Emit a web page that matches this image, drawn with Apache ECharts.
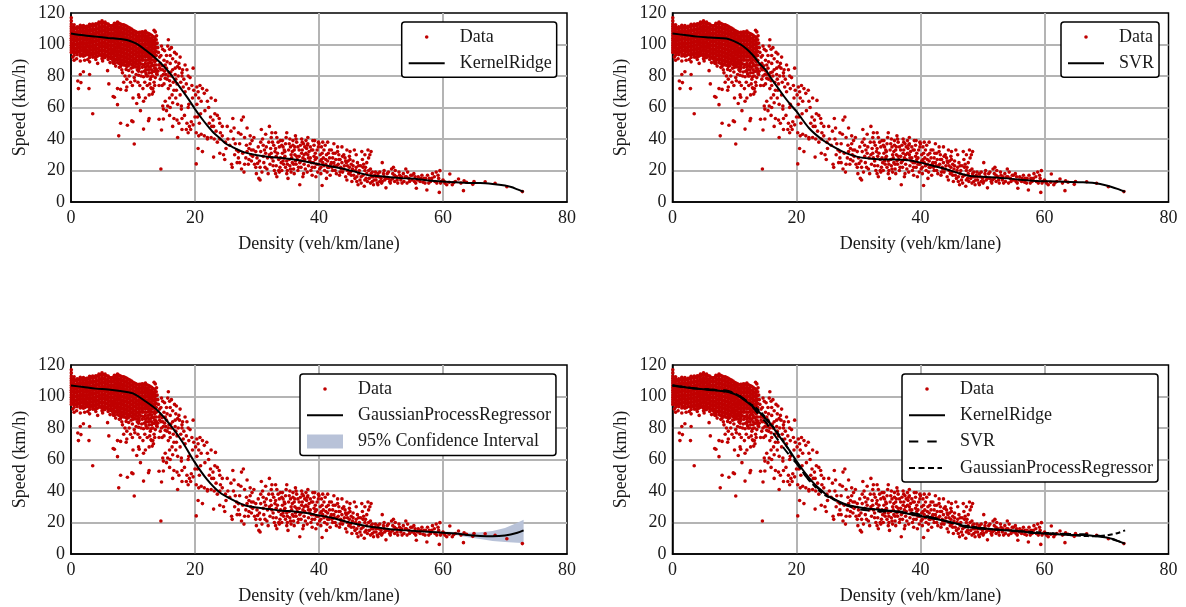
<!DOCTYPE html>
<html><head><meta charset="utf-8">
<style>html,body{margin:0;padding:0;background:#fff}#c{width:1186px;height:607px}</style>
<script src="https://cdn.jsdelivr.net/npm/echarts@6/dist/echarts.min.js"></script>
</head><body><div id="c"></div>
<script>
// Solid cluster of low-density observations: density, then the speeds read in that column
const denseColumns = [
[0.05,[117,115,113,111.5,110,108.5,107,105.5,104,102.5,101,99.5,98,96.5,95]],
[0.5,[112.5,111,109.7,108.2,106.7,105.2,103.7,102.2,100.7,99.2,97.7,96.2,94.7,93.2]],
[1,[111.3,110,108.5,107,105.5,104,102.5,101,99.5,98,96.5,95,93.5]],
[1.5,[112.2,110.7,109.2,107.7,106.2,104.7,103.2,101.7,100.2,98.7,97.2,95.7,94.2,92.7]],
[2,[112,110.5,109,107.5,106,104.5,103,101.5,100,98.5,97,95.5,94,92.5]],
[2.5,[111.5,110,108.7,107.2,105.7,104.2,102.7,101.2,99.7,98.2,96.7,95.2,93.7]],
[3,[112.8,111.2,109.7,108.2,106.7,105.2,103.7,102.2,100.7,99.2,97.7,96.2,94.7,93.2,91.7]],
[3.5,[113,111.5,110,108.5,107,105.5,104,102.5,101,99.5,98,96.5,95,93.5,92]],
[4,[113.2,111.8,110.2,108.7,107.2,105.7,104.2,102.7,101.2,99.7,98.2,96.7,95.2,93.7,92.2,90.5]],
[4.5,[114.2,112.7,111.2,109.7,108.2,106.7,105.2,103.7,102.2,100.7,99.2,97.7,96.2,94.7,93.2]],
[5,[115,113.5,112,110.5,109,107.5,106,104.5,103,101.5,100,98.5,97,95.5,94,92.5,91]],
[5.5,[114.2,112.7,111.2,109.7,108.2,106.7,105.2,103.7,102.2,100.7,99.2,97.7,96.2,94.7,93.2,91.7]],
[6,[113,111.5,110,108.5,107,105.5,104,102.5,101,99.5,98,96.5,95,93.5,92,90.5]],
[6.5,[111.8,110.5,109,107.5,106,104.5,103,101.5,100,98.5,97,95.5,94,92.5,91]],
[7,[113.5,112,110.5,109,107.5,106,104.5,103,101.5,100,98.5,97,95.5,94,92.5,91,89.5,88]],
[7.5,[114.2,112.5,111,109.5,108,106.5,105,103.5,102,100.5,99,97.5,96,94.5,93,91.5,90,88.5]],
[8,[113,111.5,110,108.5,107,105.5,104,102.5,101,99.5,98,96.5,95,93.5,92,90.5,89,87.5,86]],
[8.5,[112.5,111,109.5,108,106.5,105,103.5,102,100.5,99,97.5,96,94.5,93,91.5,90,88.5,87]],
[9,[111.5,110,108.5,107,105.5,104,102.5,101,99.5,98,96.5,95,93.5,92,90.5,89,87.5,86]],
[9.5,[110.5,109,107.5,106,104.5,103,101.5,100,98.5,97,95.5,94,92.5,91,89.5,88]],
[10,[109,108,106.5,105,103.5,102,100.5,99,97.5,96,94.5,93,91.5,90,88.5,87,85.5]],
[10.5,[108,107,105.5,104,102.5,101,99.5,98,96.5,95,93.5,92,90.5,89,87.5]],
[11,[107.8,106.8,105.3,103.8,102.3,100.8,99.3,97.8,96.3,94.8,93.3,91.8,90.3,88.8,86.3,84.8]],
[11.5,[108,106.5,105,103.5,102,100.5,99,97.5,96,94.5,93,91.5,90,87.5,85.5]],
[12,[108.5,107,105.5,104,102.5,101,99.5,98,96.5,95,93.5,92,90,88,85.5,83.5]],
[12.5,[107,105.5,104,102.5,101,99.5,98,96.5,95,93.5,92,90.5,88,86,84]],
[13,[105.8,104.3,102.8,101.3,99.8,98.3,96.8,95.3,93.8,92.3,90.3,88,86.5,84,82]],
[13.5,[104.5,103,101.5,100,98.5,97,95.5,94,92.5,90.5,89,87,85,83]],
[0.28,[111,108,105.5,103,100.5,98,95.5]],
[0.77,[110.3,107.5,105,102.5,100,97.5,95]],
[1.27,[110.8,108,105.5,103,100.5,98,95.5]],
[1.76,[111,108.5,106,103.5,101,98.5,96,93.5]],
[2.25,[110.8,108,105.5,103,100.5,98,95.5,93]],
[2.76,[111.5,108.5,106,103.5,101,98.5,96,93.5]],
[3.24,[112,109,106.5,104,101.5,99,96.5,94]],
[3.76,[112.3,109.5,107,104.5,102,99.5,97,94.5,92]],
[4.25,[113,110,107.5,105,102.5,100,97.5,95,92.5]],
[4.74,[114,111,108.5,106,103.5,101,98.5,96,93.5]],
[5.25,[114,111.2,108.7,106.2,103.7,101.2,98.7,96.2,93.7,91.5]],
[5.77,[113.2,110.5,108,105.5,103,100.5,98,95.5,93]],
[6.25,[112,109.5,107,104.5,102,99.5,97,94.5,92]],
[6.75,[112,109.3,106.8,104.3,101.8,99.3,96.8,94.3,91.8,89.7]],
[7.24,[113.3,110.7,108,105.5,103,100.5,98,95.5,93,90.5]],
[7.76,[113.5,110.8,108.2,105.7,103.2,100.7,98.2,95.7,93.2,90.7,88]],
[8.25,[112.5,110,107.5,105,102.5,100,97.5,95,92.5,90,87.5]],
[8.75,[112,109.3,106.8,104.3,101.8,99.3,96.8,94.3,91.8,89.3,86.8]],
[9.25,[111,108.5,106,103.5,101,98.5,96,93.5,91,88.5,86.5]],
[9.76,[109.8,107.3,104.8,102.3,99.8,97.3,94.8,92.3,89.8,87.3]],
[10.25,[108.5,106,103.5,101,98.5,96,93.5,91,88.5,86]],
[10.75,[107.5,105,102.5,100,97.5,95,92.5,90,87.5,85.5]],
[11.25,[107.8,105.2,102.7,100.2,97.7,95.2,92.7,90.2,87.7]],
[11.75,[107.8,105.2,102.7,100.2,97.7,95.2,92.7,90.2,87]],
[12.25,[107.5,105,102.5,100,97.5,95,92.5,90,86.5,84]],
[12.75,[106.5,104,101.5,99,96.5,94,91.5,89,85.5]],
[13.25,[105,102.5,100,97.5,95,92.5,90,86.5]],
[13.75,[103,100.5,98,95.5,93,90,87,84]]
];
// Individually read scatter points: [density, speed]
const sparsePoints = [
[0.5,90],[1.5,89.5],[3,89],[4.3,88],[5.9,83.4],[2,82.7],[1.5,81],[3,81],[1.1,76.8],[1.6,75.8],[1.2,72],[2.9,72],[6.1,75],[3.5,56],[7.5,72],[8,71.5],[6.8,67],[7,66.5],[7.5,61.8],[8.9,71],[8,50],[9.1,48.7],[7.7,42],[10,51],[10.2,36.8],[14.5,21],[11.7,46.3],[12.5,51.6],[12.6,53],[14.2,52.5],[14.9,52.7],[14.6,45.7],[10,66],[10.9,68],[11,66.5],[11.7,64],[10.6,62.5],[11.2,58],[9.8,51.5],[12,66],[12.6,68],[13,72],[13.2,72],[13.3,70],[13.1,68.5],
[8.3,82],[8.7,80],[9,78],[9.4,80],[8.5,76],[9.9,74],[10.2,79],[10.5,81],[10.3,77],[10.9,83],[11.3,80],[11.1,74],[11.7,79.5],[11.9,76],[12.2,80],[12.3,74],[12.8,78],[12.7,75],[13.2,80],[13.4,76],[13.6,79],[13.9,81],[14,83],[14.3,85],[14.4,88],[14.6,80],[14.2,74],[14.8,84],[15,90],[15.2,87],[15.3,81],[15.5,78],[15,75],[15.8,82],[15.9,77],[15.7,72],[16,74],[16.2,80],[16.4,84],[16.5,76],
[14.1,95],[14.3,92],[14.6,99],[14.8,97],[14.5,93],[15.1,96],[15.4,93],[15.6,99],[15.7,103],[15.9,97],[16,93],[16.2,98],[16.4,91],[16.7,95],[16.9,89],[17,94],[17.4,88],[17.6,92],[17.2,86],[16.8,85],[16,88],[15.5,89],
[13.6,108],[13.8,105.5],[13.4,109],[13.9,101],[14,98],[17.5,85],[17.9,80],[18,84],[18.4,87],[18.7,84],[18.9,80],[19.2,79],[19.7,85],[17.3,80],[17.7,76],[16.9,78],[18.2,78],[18.6,75],[18.1,73],[17,71],[16.6,71],[16.3,68],[15.9,66],[17.6,68],[18.4,70],[19,72],[19.5,74],[19.8,71],[20.3,73],[20.5,70],[20.8,74],[21.2,72],[21.5,69],[21.9,71],[20.1,68],[19.6,66],[20.6,66],[21,64],[20.3,62],[22.6,66],[23.3,64.5],[22,64],[19,62],[18.9,60],
[15.2,64],[15.6,61],[14.8,61],[14.9,59],[15.4,58],[16,60],[16.4,63],[16.9,66],[17.2,62],[17.8,59],[17.8,61],[15.9,55],[16.6,53],[17.1,52],[17.4,50],[17.9,53],[18.3,55],[18.7,50],[19.1,48],[19.4,51],[19.7,49],[18.6,46],[18.9,44],[19.3,46],[17.2,41],[17.9,46],[16.4,48],[20,54],[20.4,54],[20.7,50],[20.9,56],[21.6,58],[22.2,60],[22.5,54],[22.9,52],[23.2,56],[23.6,55],[23.9,53],[24,50],[22.3,50],[22.7,48],[23,48],[23.4,45],[21,43],[21.5,42],[22,40],[20.2,44],[20.6,42],[20.2,24.2],[20.5,34],[21.2,32],[22,41],[22.6,41],[23.1,40],[23.6,38],[24,40],[24.4,42],[23,28.5],[24,31],[24.6,30],[25,34],[25.6,36],[24.8,27],[25.9,24],[26,22],[26.4,30],[26.7,33],[27,28],[26.1,53],[27.5,52],[27.8,54],[26.3,47],[27,44],[27.4,43],[28,41],[26.5,37],[27.2,37],[27.7,31],[28,24],[28.3,36],[28.7,34],[28.9,37],[29,30],[27.2,25],[27.5,21],[27.9,19],[28.6,24],[29.2,39],[29.5,41],[29.8,32],[30,28],[29.6,24],[29.8,22],[29.9,18],[30.3,15],[30.5,14],[30.7,46],[30.9,40],[31,36],[31.2,33],[31.4,31],[31.1,25],[31.3,22],[31.6,21],[31.8,18],
[32,48],[32.3,41],[32.5,38],[32.7,36],[32.2,34],[32.9,32],[32.4,28],[32.1,24],[32.6,23],[32.8,20],[33,18],[33.2,16],[33.4,38],[33.6,35],[33.8,39],[33.3,31],[33.5,27],[33.9,25],[33.7,22],[34,20],[34.2,35],[34.5,32],[34.7,41],[34.4,28],[34.8,26],[34.6,22],[34.9,20],[35,15],[35.2,37],[35.5,30],[35.7,25],[35.3,23],[35.9,21],[36,18],[36.2,42],[36.4,38],[36.6,35],[36.8,33],[36.1,30],[36.3,24],[36.7,22],[36.9,11],[37,36],[37.2,31],[37.4,28],[37.1,26],[37.6,24],[37.8,21],[37.5,18],[37.9,39],[38,34],[38.2,30],[38.5,26],[38.3,23],[38.7,20],[38.9,17],[38.2,37],[38.8,33],[39,39],[39.2,36],[39.4,31],[39.6,28],[39.1,25],[39.3,22],[39.8,19],[39.5,16],[39,33],[40,37],[40.2,30],[40.4,27],[40.6,25],[40.1,21],[40.3,18],[40.5,10.5],[40.8,33],[41,36],[41.2,30],[41.4,26],[41.1,24],[41.6,22],[41.3,19],[41.8,17],[41.5,31],[42,33],[42.2,28],[42.4,25],[42.1,22],[42.6,20],[42.8,18],[42.3,31],[43,32],[43.2,30],[43.4,27],[43.1,24],[43.6,21],[43.8,19],[43.3,17],[44,30],[44.2,28],[44.4,25],[44.1,23],[44.6,20],[44.8,18],[44.3,16],[44.5,14],[45,27],[45.2,24],[45.4,21],[45.1,19],[45.6,17],[45.8,15],[45.3,13],[45.7,33],[46,22],[46.2,25],[46.4,18],[46.1,16],[46.6,14],[46.8,12],[46.3,11],[47,27],[47.2,24],[47.4,20],[47.1,17],[47.6,15],[47.8,13],[47.3,10],[47.9,33],[48,28],[48.2,30],[48.4,18],[48.1,15],[48.6,13],[48.8,11],[48.3,21],[49,17],[49.2,14],[49.4,12],[49.1,19],[49.6,16],[49.8,13],[50,15],[50.2,25],[50.4,18],[50.6,14],[50.1,12],[50.8,9],[51,18],[51.2,15],[51.4,13],[51.7,21],[51.9,18],[51.6,14],[52,22],[52.3,20],[52.5,16],[52.2,13],[52.7,12],[53,17],[53.2,14],[53.4,12],[53.6,18],[53.9,16],[54,21],[54.3,19],[54.5,15],[54.2,12],[54.8,17],[55,14],[55.3,18],[55.5,16],[55.7,8.7],[55.6,12],[56,16],[56.3,13],[56.6,17],[56.9,15],[57.1,12],[57.4,7.6],[57.5,17],[57.8,15],[58,13],[58.3,18],[58.6,16],[58.9,19],[59,12],[59.4,6.1],[59.5,19.9],[59.3,15],[59.7,13],[60,14],[60.3,12],[60.6,11],[61.1,17.8],[61,12.5],[61.5,11],[61.7,12.3],[62,13],[62.5,14.6],[62.9,12],[63.3,7.2],[63.4,13.5],[63.8,12.5],[64.8,11.2],[65,13],[66.8,12.9],[68.4,11.9],[70.3,9.7],[72.8,6.6],
[25.2,48],[25.8,45],[24.4,48],[24.1,44],[24.9,38],[25.3,40],[26.2,40],[28.4,47],[28.9,42],[30.2,35],[30.6,32],[29.4,33],[28.2,28],[26.8,25],[27,32],[29.1,26],[30.4,26],[31,29],[31.7,28],[32,30],[33,34],[33.1,29],[34.1,31],[34.3,24],[35.1,33],[35.6,28],[36.5,27],[37.3,33],[37.7,27],[38.4,32],[38.6,28],[39.7,33],[40.7,28],[41.7,28],[42.7,27],[43.7,25],[44.7,26],[45.5,23],[46.5,20],[47.5,22],[48.5,16],[49.5,18],[50.5,16],[34,36],[34.6,37],[35.4,35],[35.8,39],[36,33],[38.1,36],[40.4,35],[41.9,24],[42.5,23],[43.5,22],[44.9,22],[46.7,23],[47.7,18],[48.7,16],[33.6,19],[34.8,18],[35.5,19],[36.6,20],[37.4,16],[38.1,19],[40.9,20],[41.2,15],[39.9,24],[40.3,22],[36.4,29],[37.6,30],[38.8,25],[39.4,27],[35.9,24],[34.4,33],
[0.3,92],[0.9,91],[2.2,90],[2.7,90.5],[5.1,89.5],[6.3,88.5],[6.8,88.2],[7.2,86.3],[7.8,85.5],[8.2,84],[8.9,84.2],[9.3,83.5],[9.7,85],[9.9,82.5],[10.4,85.7],[10.7,84],[10.9,80.5],[11.4,82.5],[11.8,83],[12.1,81.5],[12.4,80],[12.6,82],[12.9,79.5],[13.3,83],[13.7,84.5],[13.8,81.5],[14.2,87],[14.5,84],[14.7,86.5],[14.9,81],[15.1,83],[15.4,85],[15.7,80],[16.1,82.5],[15.2,78.5],[14.4,78],[13.5,74],[12.9,72.5],[11.6,72],[10.8,76],[9.6,76],[9,73],[14.7,74],[16.8,81],[17.1,75],[17.9,82],
[28.7,27],[29.3,29],[30.1,24.5],[30.5,22],[30.8,19],[31.5,35],[31.9,38],[32.3,31],[32.6,26],[33.1,23],[33.5,20],[33.8,28],[34.2,26],[34.5,29],[34.9,24],[35.2,27],[35.4,21],[35.7,32],[36.1,35],[36.2,26],[36.8,29],[36.9,25],[37.1,22],[37.3,38],[37.7,35],[37.9,31],[38.3,28],[38.6,35],[38.9,22],[39.2,29],[39.6,24],[39.9,35],[40.2,26],[40.5,31],[40.8,23],[41.1,27],[41.4,22],[41.7,33],[42,25],[42.2,20],[42.6,31],[42.9,23],[43.2,27],[43.4,19],[43.8,29],[44,21],[44.3,26],[44.6,23],[44.9,29],[45.2,17],[45.5,26],[45.9,20],[46.1,13],[46.4,23],[46.8,16],[47.1,22],[47.4,14],[47.7,25],[48,20],[48.3,12],[48.6,19],[48.9,14],[49.2,16],[49.5,11],[49.8,19],[50.2,13],[50.5,20],[50.8,15],[51.2,19],[51.5,12],[51.9,15],[52.2,17],[52.6,14],[52.9,19],[53.3,16],[53.7,13],[54.1,16],[54.6,13],[55,17],[55.4,13],[55.9,14],[56.4,15],[56.8,12.5],[57.2,15],[57.7,12],[58.2,15],[58.7,13],[59.2,17],[59.6,12],[60.2,13],
[29.1,33],[28.4,32],[32.4,44],[33.2,41],[34.8,44],[35.3,40],[36.3,40],[37.2,40],[38.2,41],[39.3,39],[39.9,38],[40.6,38],[41.4,38],[42.4,37],[43,35],[43.7,35],[44.5,33],[45,32],[46,30],[46.9,32],[47.4,30],[48.4,32],[30.6,38],[31.4,43],[33,44],[34.1,39],[35.8,36],[37.5,37]
];
const densityTicks = [0, 80, 20];
const speedTicks = [0, 120, 20];
const kernelRidge = [[0,107],[2,105.8],[4,105],[6,104.2],[8,103.5],[9,102.8],[10,101.5],[11,99.5],[12,96.5],[13,93.5],[14,90],[15,86],[16,81.5],[17,76],[18,70.5],[19,65],[20,59],[21,53.5],[22,48.5],[23,44],[24,40.5],[25,37],[26,35],[27,33],[28,31.5],[30,29.7],[32,28.5],[34,28],[36,27],[38,25.5],[40,24],[42,22.5],[44,21],[46,19],[48,17],[50,16.3],[52,15.5],[54,15],[56,14.5],[58,13.5],[60,13],[62,12.5],[64,12],[66,12],[68,11.5],[70,10.5],[71,9.5],[72,8],[73,6.5]];
const svr = [[0,107],[2,106],[4,105],[6,104.5],[8,104],[9,103.5],[10,102],[11,100],[12,97],[13,93],[14,88],[15,84],[16,78],[17,72.5],[18,67],[19,62],[20,57.5],[22,47],[24,40],[26,35],[28,31],[30,28.5],[32,27.5],[34,27],[36,27],[38,26.5],[40,25],[42,23],[44,21],[46,18.5],[48,16.5],[50,16],[54,15],[58,13.5],[62,13],[66,12.5],[68,12],[70,10.5],[72,8],[73,6.5]];
const gaussianProcess = [[0,107],[2,106],[4,105],[6,104.5],[8,103.5],[10,102],[12,97],[14,91],[16,82],[18,71],[20,58],[22,47],[24,39],[26,34.5],[28,31],[30,29.5],[32,28.5],[34,27.5],[36,27],[38,26],[40,24.5],[42,23],[44,21],[46,19],[48,17.5],[50,16.5],[52,15.5],[54,15],[56,14.5],[58,14],[60,13.5],[62,13],[64,12],[66,11.5],[68,11.3],[70,11.8],[72,13.5],[73,15]];
// density, lower bound, upper bound
const confidenceBand = [[54,14.8,15.2],[56,14.2,14.8],[58,13.6,14.4],[60,12.7,14.3],[62,12,14],[64,10.7,13.5],[66,9.5,13.8],[68,8.3,14.6],[70,7.6,16.5],[72,7.2,19.8],[73,7,21.8]];
const labels = {x:'Density (veh/km/lane)', y:'Speed (km/h)'};

const points = denseColumns.flatMap(c => c[1].map(s => [c[0], s])).concat(sparsePoints);
const FONT = '"Liberation Serif","Times New Roman",serif';
const lefts = [71, 672.5], tops = [13, 365];
const W = 496, H = 189;
const grids = [], xAxes = [], yAxes = [], series = [], legends = [];
const BOX = 'path://M0 0L0 0M36 14L36 14';
const dot = BOX + 'M16.2 7A1.8 1.8 0 1 0 19.8 7A1.8 1.8 0 1 0 16.2 7Z';
const solidIcon = BOX + 'M0 6H36V8H0Z';
const dashIcon = BOX + 'M0 6H9.3V8H0ZM18.3 6H27.7V8H18.3Z';
const dotIcon = BOX + 'M0 6H6V8H0ZM9.5 6H15.5V8H9.5ZM19 6H25V8H19ZM28.5 6H33V8H28.5Z';
const RED = '#c00000';
const panels = [
 {l:0,t:0,legend:[401.7,22],items:[{name:'Data',icon:dot},{name:'KernelRidge',icon:solidIcon}],
  lines:[['KernelRidge',kernelRidge,'solid']]},
 {l:1,t:0,legend:[1061,22],items:[{name:'Data',icon:dot},{name:'SVR',icon:solidIcon}],
  lines:[['SVR',svr,'solid']]},
 {l:0,t:1,legend:[300,374],items:[{name:'Data',icon:dot},{name:'GaussianProcessRegressor',icon:solidIcon},{name:'95% Confidence Interval',icon:'rect'}],
  lines:[['GaussianProcessRegressor',gaussianProcess,'solid']],band:true},
 {l:1,t:1,legend:[902,374],items:[{name:'Data',icon:dot},{name:'KernelRidge',icon:solidIcon},{name:'SVR',icon:dashIcon},{name:'GaussianProcessRegressor',icon:dotIcon}],
  lines:[['KernelRidge',kernelRidge,'solid'],['SVR',svr,[9,8]],['GaussianProcessRegressor',gaussianProcess,[5,3]]]}
];
const textStyle = {fontFamily:FONT,fontSize:18,color:'#1a1a1a'};
panels.forEach((p,i) => {
  grids.push({left:lefts[p.l],top:tops[p.t],width:W,height:H,show:true,borderColor:'#000',borderWidth:1.5,backgroundColor:'#fff'});
  const axisBase = {gridIndex:i,type:'value',nameLocation:'middle',nameTextStyle:textStyle,
    axisLine:{show:true,onZero:false,lineStyle:{color:'#000',width:1.5}},axisTick:{show:false},
    splitLine:{show:true,showMinLine:false,showMaxLine:false,lineStyle:{color:'#b4b4b4',width:2}}};
  xAxes.push({...axisBase,min:densityTicks[0],max:densityTicks[1],interval:densityTicks[2],
    name:labels.x,nameGap:33,axisLabel:{...textStyle,margin:7}});
  yAxes.push({...axisBase,min:speedTicks[0],max:speedTicks[1],interval:speedTicks[2],
    name:labels.y,nameGap:42,axisLabel:{...textStyle,margin:6}});
  if (p.band) series.push({name:'95% Confidence Interval',type:'custom',xAxisIndex:i,yAxisIndex:i,z:2,
    data:confidenceBand,encode:{x:0,y:[1,2]},itemStyle:{color:'#b8c2d8'},
    renderItem:(params,api)=>{
      if (params.dataIndex!==0) return;
      const up=confidenceBand.map(r=>api.coord([r[0],r[2]]));
      const lo=confidenceBand.map(r=>api.coord([r[0],r[1]])).reverse();
      return {type:'polygon',shape:{points:up.concat(lo)},style:{fill:'#b8c2d8'}};
    }});
  series.push({name:'Data',type:'scatter',xAxisIndex:i,yAxisIndex:i,data:points,symbol:'circle',symbolSize:3.6,z:3,
    itemStyle:{color:RED,opacity:1},silent:true,animation:false});
  p.lines.forEach(l => series.push({name:l[0],type:'line',xAxisIndex:i,yAxisIndex:i,data:l[1],smooth:0.3,symbol:'none',showSymbol:false,z:4,
    lineStyle:{color:'#000',width:2,type:l[2]},itemStyle:{color:'#000'},animation:false}));
  legends.push({orient:'vertical',left:p.legend[0],top:p.legend[1],data:p.items,selectedMode:false,
    itemWidth:36,itemHeight:14,itemGap:8.3,padding:[6,5,5,7],
    backgroundColor:'#fff',borderColor:'#000',borderWidth:1.5,borderRadius:3,
    textStyle:{...textStyle,padding:[0,0,0,10]},z:10});
});
const chart = echarts.init(document.getElementById('c'),null,{renderer:'canvas'});
chart.setOption({animation:false,backgroundColor:'#fff',grid:grids,xAxis:xAxes,yAxis:yAxes,legend:legends,series});
</script></body></html>
